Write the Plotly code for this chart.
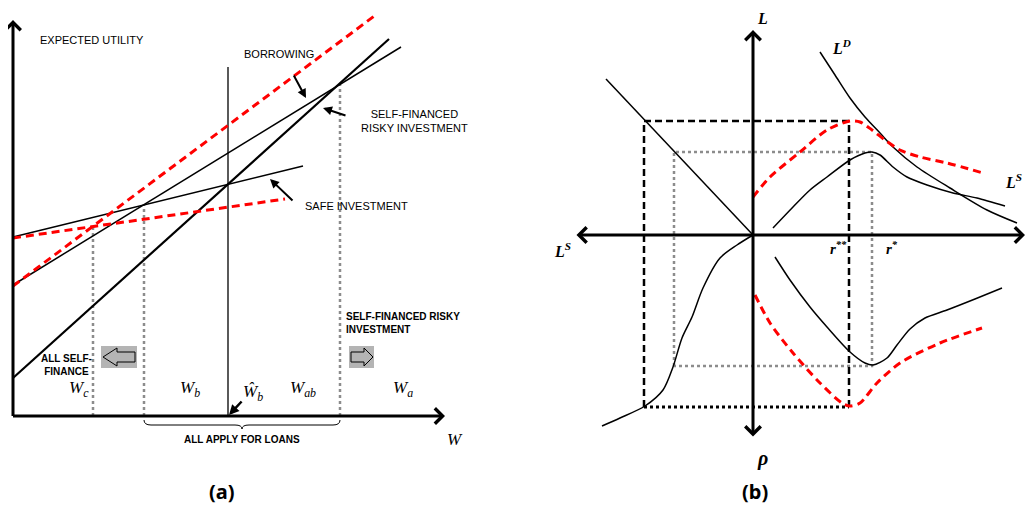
import plotly.graph_objects as go

# ── Colours / styles ─────────────────────────────────────────────────────────
BLACK = "#000000"
RED = "#ff0000"
GREY = "#8c8c8c"
BOX = "#b4b4b4"
SANS = "Liberation Sans, Arial, sans-serif"
SERIF = "Liberation Serif, Times New Roman, serif"

# ── Panel (a): wealth W vs expected utility (schematic units) ────────────────
safe_w, safe_u = [0, 290], [179, 250]
borrow_w, borrow_u = [0, 388], [131, 369]
risky_w, risky_u = [0, 376], [38, 377]
red_hi_w, red_hi_u = [0, 364], [130, 402]
red_lo_w, red_lo_u = [0, 272], [178, 217]

W_c, U_c = 80, 189
W_b, U_b = 131, 211
W_ab, U_ab = 327, 333
W_hat, U_hat_top = 215, 349

# ── Panel (b): four-quadrant loan market (schematic units) ───────────────────
LD_r = [67, 82, 97, 112, 127, 140, 164, 197, 234, 264]
LD_L = [183, 160, 137, 118, 102, 88, 68, 47, 25, 12]

LS_r = [20, 40, 57, 74, 97, 112, 119, 127, 140, 154, 174, 200, 224, 252]
LS_L = [7, 28, 45, 58, 75, 82, 83, 80, 68, 58, 50, 42, 37, 29]

LS_red_r = [0, 17, 47, 74, 97, 107, 119, 132, 147, 167, 194, 230]
LS_red_L = [38, 58, 83, 105, 114, 113, 105, 95, 85, 78, 72, 62]

q3_x = [-151, -133, -108, -90, -80, -71, -61, -50, -33, -16, 0]
q3_y = [-191, -183, -171, -155, -132, -103, -82, -53, -23, -10, 0]

rho_r = [22, 37, 57, 74, 97, 112, 120, 134, 144, 157, 172, 194, 222, 249]
rho_v = [-22, -45, -72, -92, -117, -128, -130, -123, -110, -94, -83, -75, -64, -53]

rho_red_r = [2, 17, 40, 67, 89, 97, 107, 124, 147, 187, 229]
rho_red_v = [-60, -88, -118, -148, -168, -171, -168, -148, -128, -108, -93]

diag_x, diag_y = [-147, 0], [156, 0]

r_star, L_star, rho_star, Ls_star = 119, 83, -131, -79
r_ss, L_ss, rho_ss, Ls_ss = 96, 114, -172, -109

fig = go.Figure()


def line(x, y, color=BLACK, width=1.5, dash=None, ax=1, spline=False):
    fig.add_trace(go.Scatter(
        x=x, y=y, mode="lines", hoverinfo="skip", showlegend=False,
        xaxis="x" if ax == 1 else "x2", yaxis="y" if ax == 1 else "y2",
        line=dict(color=color, width=width, dash=dash, shape="spline" if spline else "linear", smoothing=0.8),
    ))


# panel (a) lines
line([W_c, W_c], [0, U_c], GREY, 2.5, "dot")
line([W_b, W_b], [0, U_b], GREY, 2.5, "dot")
line([W_ab, W_ab], [0, U_ab], GREY, 2.5, "dot")
line([W_hat, W_hat], [0, U_hat_top], BLACK, 1.3)
line(safe_w, safe_u, BLACK, 1.5)
line(borrow_w, borrow_u, BLACK, 1.5)
line(risky_w, risky_u, BLACK, 2.2)
line(red_hi_w, red_hi_u, RED, 3, "8px,5px")
line(red_lo_w, red_lo_u, RED, 3, "8px,5px")

# panel (b) guide rectangles
line([Ls_star, Ls_star, r_star, r_star, Ls_star], [rho_star, L_star, L_star, rho_star, rho_star], GREY, 2.5, "dot", ax=2)
line([Ls_ss, Ls_ss, r_ss, r_ss], [rho_ss, L_ss, L_ss, rho_ss], BLACK, 2.5, "7px,4px", ax=2)
line([Ls_ss, r_ss], [rho_ss, rho_ss], BLACK, 3, "dot", ax=2)

# panel (b) curves
line(diag_x, diag_y, BLACK, 1.5, ax=2)
line(LD_r, LD_L, BLACK, 1.5, ax=2, spline=True)
line(LS_r, LS_L, BLACK, 1.5, ax=2, spline=True)
line(q3_x, q3_y, BLACK, 1.5, ax=2, spline=True)
line(rho_r, rho_v, BLACK, 1.5, ax=2, spline=True)
line(LS_red_r, LS_red_L, RED, 3, "8px,5px", ax=2, spline=True)
line(rho_red_r, rho_red_v, RED, 3, "8px,5px", ax=2, spline=True)

ann = []


def arrow(x, y, ax_, ay_, xr="x", yr="y", head=4, width=3, side="end", size=1.0):
    ann.append(dict(x=x, y=y, ax=ax_, ay=ay_, xref=xr, yref=yr, axref=xr, ayref=yr, text="",
                    showarrow=True, arrowhead=head, startarrowhead=head, arrowside=side,
                    arrowwidth=width, arrowsize=size, arrowcolor=BLACK))


def label(x, y, text, size=11, font=SANS, xr="x", yr="y", align="center", xanchor="center"):
    ann.append(dict(x=x, y=y, xref=xr, yref=yr, text=text, showarrow=False, align=align,
                    xanchor=xanchor, yanchor="middle", font=dict(family=font, size=size, color=BLACK)))


# axes of panel (a)
arrow(0, 396, 0, -1.5)
arrow(432, 0, -1.5, 0)
# call-out arrows
arrow(293, 318, 280, 342, head=2, width=2, size=0.9)
arrow(310, 308, 334, 300, head=2, width=2, size=0.9)
arrow(257, 237, 281, 214, head=2, width=2, size=0.9)
arrow(216, 1, 230, 16, head=2, width=2.5, size=0.8)

label(79, 376, "EXPECTED UTILITY")
label(266, 362, "BORROWING")
label(401, 295, "SELF-FINANCED<br>RISKY INVESTMENT")
label(343, 210, "SAFE INVESTMENT")
label(331, 93, "<b>SELF-FINANCED RISKY<br>INVESTMENT</b>", size=10, align="left", xanchor="left")
label(53, 51, "<b>ALL SELF-<br>FINANCE</b>", size=10)
label(229, -23, "<b>ALL APPLY FOR LOANS</b>", size=10)
label(66, 27, "<i>W<sub>c</sub></i>", 17, SERIF)
label(177, 27, "<i>W<sub>b</sub></i>", 17, SERIF)
label(240, 23, "<i>Ŵ<sub>b</sub></i>", 17, SERIF)
label(290, 27, "<i>W<sub>ab</sub></i>", 17, SERIF)
label(390, 27, "<i>W<sub>a</sub></i>", 17, SERIF)
label(442, -23, "<i>W</i>", 17, SERIF)
label(209, -75, "<b>(a)</b>", 20, "Noto Sans")

# axes of panel (b)
arrow(272, 0, -178, 0, "x2", "y2", side="end+start")
arrow(0, 205, 0, -203, "x2", "y2", side="end+start")
label(9, 217, "<b><i>L</i></b>", 16, SERIF, "x2", "y2")
label(88, 188, "<b><i>L<sup>D</sup></i></b>", 16, SERIF, "x2", "y2")
label(-191, -15, "<b><i>L<sup>S</sup></i></b>", 16, SERIF, "x2", "y2")
label(250, 54, "<b><i>L<sup>S</sup></i></b>", 16, SERIF, "x2", "y2", xanchor="left")
label(85, -13, "<b><i>r<sup>**</sup></i></b>", 15, SERIF, "x2", "y2")
label(139, -13, "<b><i>r<sup>*</sup></i></b>", 15, SERIF, "x2", "y2")
label(9, -223, "<b><i>ρ</i></b>", 20, SERIF, "x2", "y2")
label(2, -256, "<b>(b)</b>", 20, "Noto Sans", "x2", "y2")

shapes = [
    # shaded arrow boxes
    dict(type="rect", xref="x", yref="y", x0=88, x1=124, y0=48, y1=70, fillcolor=BOX, line_width=0),
    dict(type="path", xref="x", yref="y", fillcolor=BOX, line=dict(color=BLACK, width=1),
         path="M 90,59 L 104,68 L 104,64 L 122,64 L 122,54 L 104,54 L 104,50 Z"),
    dict(type="rect", xref="x", yref="y", x0=336, x1=361, y0=48, y1=70, fillcolor=BOX, line_width=0),
    dict(type="path", xref="x", yref="y", fillcolor=BOX, line=dict(color=BLACK, width=1),
         path="M 360,59 L 351,68 L 351,64 L 338,64 L 338,54 L 351,54 L 351,50 Z"),
    # brace under the loan region
    dict(type="path", xref="x", yref="y", line=dict(color=BLACK, width=1),
         path="M 131,-4 Q 131,-9 138,-9 L 222,-9 Q 229,-9 229,-13 Q 229,-9 236,-9 L 320,-9 Q 327,-9 327,-4"),
]

# the page keeps an 8px body margin, so the figure is 16px smaller and its
# axis ranges start 8px in from the reference picture's edges
fig.update_layout(
    width=1018, height=496, margin=dict(l=0, r=0, t=0, b=0),
    paper_bgcolor="white", plot_bgcolor="white",
    xaxis=dict(domain=[0, 0.5], range=[-5, 504], visible=False),
    yaxis=dict(domain=[0, 1], range=[-88, 408], visible=False),
    xaxis2=dict(domain=[0.5, 1], range=[-236, 273], visible=False),
    yaxis2=dict(domain=[0, 1], range=[-269, 227], visible=False, anchor="x2"),
    annotations=ann, shapes=shapes,
)

fig.write_html("out.html")
